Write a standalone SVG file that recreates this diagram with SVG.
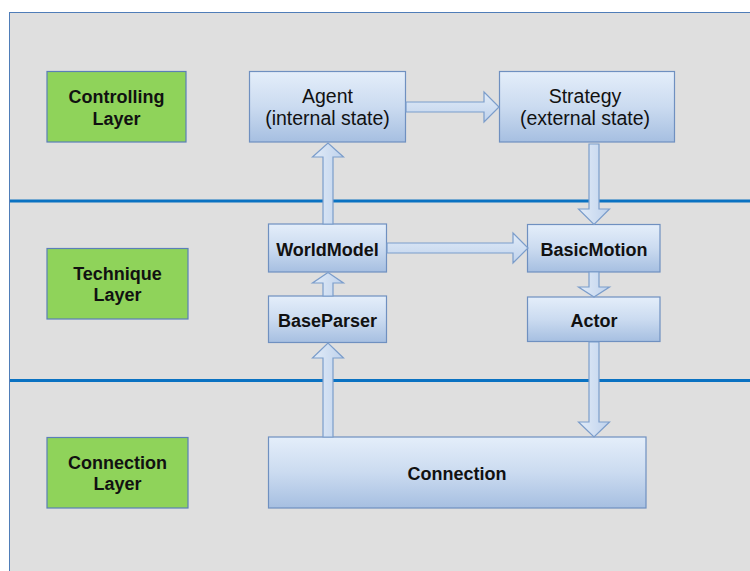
<svg xmlns="http://www.w3.org/2000/svg" width="750" height="571" viewBox="0 0 750 571">
<defs>
<linearGradient id="gBox" x1="0" y1="0" x2="0" y2="1">
<stop offset="0" stop-color="#e4eefa"/>
<stop offset="0.5" stop-color="#cbdbf0"/>
<stop offset="1" stop-color="#a6bfe1"/>
</linearGradient>
<linearGradient id="gArrow" x1="0" y1="0" x2="0" y2="1">
<stop offset="0" stop-color="#e2ecf8"/>
<stop offset="1" stop-color="#bfd2ec"/>
</linearGradient>
<linearGradient id="gArrowV" x1="0" y1="0" x2="1" y2="0">
<stop offset="0" stop-color="#e2ecf8"/>
<stop offset="1" stop-color="#bfd2ec"/>
</linearGradient>
</defs>
<style>
.box{fill:url(#gBox);stroke:#6f90c0;stroke-width:1.2}
.layer{fill:#8fd35a;stroke:#5b7fb8;stroke-width:1.2}
.t{font-family:"Liberation Sans",Arial,sans-serif;font-size:18px;font-weight:bold;fill:#111;text-anchor:middle}
.r{font-weight:normal;font-size:19.5px}
.sep{stroke:#0a72c2;stroke-width:3}
.av{fill:url(#gArrowV);stroke:#7b9dcb;stroke-width:1.2;stroke-linejoin:miter}
.ahh{fill:url(#gArrow);stroke:#7b9dcb;stroke-width:1.2;stroke-linejoin:miter}
</style>
<rect x="0" y="0" width="750" height="571" fill="#ffffff"/>
<rect x="9.5" y="12.5" width="745" height="565" fill="#dfdfdf" stroke="#4f7db8" stroke-width="1"/>
<line class="sep" x1="10" y1="201" x2="750" y2="201"/>
<line class="sep" x1="10" y1="380.5" x2="750" y2="380.5"/>

<g id="controlling-layer">
<rect class="layer" x="47" y="71.5" width="139" height="70.5"/>
<text class="t" x="116.5" y="103">Controlling</text>
<text class="t" x="116.5" y="124.5">Layer</text>
</g>
<g id="technique-layer">
<rect class="layer" x="47" y="248.5" width="141" height="70.5"/>
<text class="t" x="117.5" y="279.5">Technique</text>
<text class="t" x="117.5" y="301">Layer</text>
</g>
<g id="connection-layer">
<rect class="layer" x="47" y="437.5" width="141" height="70.5"/>
<text class="t" x="117.5" y="468.5">Connection</text>
<text class="t" x="117.5" y="490">Layer</text>
</g>

<g id="agent">
<rect class="box" x="249.5" y="71.5" width="156" height="70.5"/>
<text class="t r" x="327.5" y="102.5">Agent</text>
<text class="t r" x="327.5" y="125">(internal state)</text>
</g>
<g id="strategy">
<rect class="box" x="499.5" y="71.5" width="175" height="70.5"/>
<text class="t r" x="585" y="102.5">Strategy</text>
<text class="t r" x="585" y="125">(external state)</text>
</g>
<g id="worldmodel">
<rect class="box" x="268.5" y="224" width="118" height="48"/>
<text class="t" x="327.5" y="255.5">WorldModel</text>
</g>
<g id="basicmotion">
<rect class="box" x="527.5" y="224.5" width="132.5" height="47.5"/>
<text class="t" x="594" y="255.5">BasicMotion</text>
</g>
<g id="baseparser">
<rect class="box" x="268.5" y="296" width="118" height="46.5"/>
<text class="t" x="327.5" y="326.5">BaseParser</text>
</g>
<g id="actor">
<rect class="box" x="527.5" y="297" width="132.5" height="44.5"/>
<text class="t" x="594" y="326.5">Actor</text>
</g>
<g id="connection">
<rect class="box" x="268.5" y="437" width="377.5" height="71"/>
<text class="t" x="457" y="479.5">Connection</text>
</g>

<g id="connectors">
<polygon class="ahh" points="406,102 484,102 484,92 499,107 484,122 484,112 406,112"/>
<polygon class="av" points="323,224 323,157 312.5,157 328,143 343.5,157 333,157 333,224"/>
<polygon class="av" points="589,144 599,144 599,209 609.5,209 594,224.5 578.5,209 589,209"/>
<polygon class="ahh" points="387,243 513,243 513,233 528,248 513,263 513,253 387,253"/>
<polygon class="av" points="323,296 323,283 312.5,283 328,272.5 343.5,283 333,283 333,296"/>
<polygon class="av" points="589,272 599,272 599,287 609.5,287 594,297 578.5,287 589,287"/>
<polygon class="av" points="323,437 323,358 312.5,358 328,343 343.5,358 333,358 333,437"/>
<polygon class="av" points="589,342 599,342 599,422 609.5,422 594,437 578.5,422 589,422"/>
</g>
</svg>
